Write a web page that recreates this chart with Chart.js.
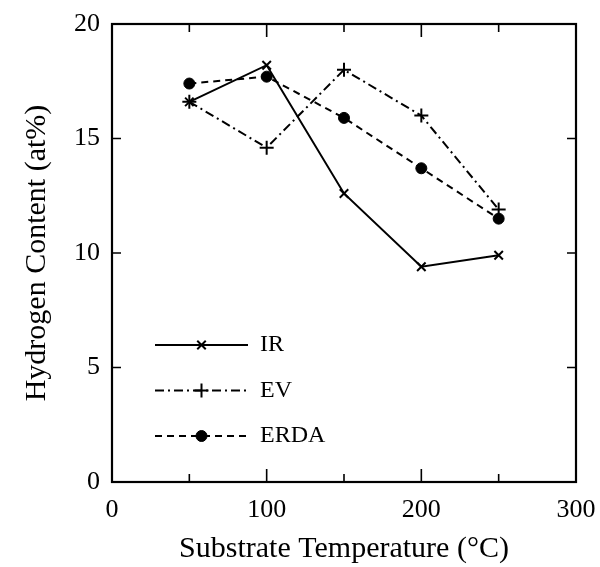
<!DOCTYPE html>
<html>
<head>
<meta charset="utf-8">
<script src="https://cdn.jsdelivr.net/npm/chart.js@4/dist/chart.umd.min.js"></script>
<style>
  body { margin: 0; background: #fff; }
  #box { width: 600px; height: 567px; }
</style>
</head>
<body>
<div id="box"><canvas id="grafico" width="600" height="567"></canvas></div>
<script>
// dados
const temperaturas = [50, 100, 150, 200, 250];
const h_ir = [16.6, 18.2, 12.6, 9.4, 9.9];
const h_ev = [16.6, 14.6, 18.0, 16.0, 11.9];
const h_erda = [17.4, 17.7, 15.9, 13.7, 11.5];

const ticks_x = [0, 100, 200, 300];
const ticks_x_menor = [50, 150, 250];
const ticks_y = [0, 5, 10, 15, 20];

const fonte = 'Liberation Serif';

function pontos(valores) {
    return temperaturas.map(function(t, i) { return { x: t, y: valores[i] }; });
}

// moldura, marcas para dentro e legenda dentro do grafico
const moldura = {
    id: 'moldura',
    afterDraw: function(chart) {
        const ctx = chart.ctx;
        const a = chart.chartArea;
        const sx = chart.scales.x;
        const sy = chart.scales.y;
        ctx.save();
        ctx.strokeStyle = '#000';
        ctx.lineWidth = 2.2;
        ctx.setLineDash([]);
        ctx.strokeRect(a.left, a.top, a.right - a.left, a.bottom - a.top);

        ctx.lineWidth = 1.6;
        ctx.beginPath();
        ticks_x.concat(ticks_x_menor).forEach(function(v) {
            const px = sx.getPixelForValue(v);
            const len = ticks_x_menor.indexOf(v) >= 0 ? 8 : 13;
            ctx.moveTo(px, a.bottom); ctx.lineTo(px, a.bottom - len);
            ctx.moveTo(px, a.top); ctx.lineTo(px, a.top + len);
        });
        ticks_y.forEach(function(v) {
            const py = sy.getPixelForValue(v);
            ctx.moveTo(a.left, py); ctx.lineTo(a.left + 9, py);
            ctx.moveTo(a.right, py); ctx.lineTo(a.right - 9, py);
        });
        ctx.stroke();

        // legenda
        chart.data.datasets.forEach(function(ds, i) {
            const y = a.top + 321 + i * 45.5;
            const x0 = a.left + 43;
            const x1 = a.left + 136;
            ctx.strokeStyle = ds.borderColor;
            ctx.fillStyle = ds.pointBackgroundColor;
            ctx.lineWidth = ds.borderWidth;
            ctx.setLineDash(ds.borderDash || []);
            ctx.beginPath();
            ctx.moveTo(x0, y);
            ctx.lineTo(x1, y);
            ctx.stroke();
            ctx.setLineDash([]);
            ctx.lineWidth = ds.pointBorderWidth;
            Chart.helpers.drawPoint(ctx, {
                pointStyle: ds.pointStyle,
                radius: ds.pointRadius,
                rotation: 0,
                borderWidth: ds.pointBorderWidth
            }, (x0 + x1) / 2, y);
            ctx.fillStyle = '#000';
            ctx.font = '24px "' + fonte + '"';
            ctx.textBaseline = 'middle';
            ctx.textAlign = 'left';
            ctx.fillText(ds.label, a.left + 148, y);
        });
        ctx.restore();
    }
};

const ctx = document.getElementById('grafico').getContext('2d');

const myChart = new Chart(ctx, {
    type: 'line',
    data: {
        datasets: [{
            label: 'IR',
            data: pontos(h_ir),
            borderColor: '#000',
            borderWidth: 2,
            pointStyle: 'crossRot',
            pointRadius: 6,
            pointBorderWidth: 2,
            pointBorderColor: '#000',
            pointBackgroundColor: '#000',
            tension: 0
        }, {
            label: 'EV',
            data: pontos(h_ev),
            borderColor: '#000',
            borderWidth: 2,
            borderDash: [9, 4, 2, 4],
            pointStyle: 'cross',
            pointRadius: 7,
            pointBorderWidth: 2,
            pointBorderColor: '#000',
            pointBackgroundColor: '#000',
            tension: 0
        }, {
            label: 'ERDA',
            data: pontos(h_erda),
            borderColor: '#000',
            borderWidth: 2,
            borderDash: [7, 5],
            pointStyle: 'circle',
            pointRadius: 5.5,
            pointBorderWidth: 1,
            pointBorderColor: '#000',
            pointBackgroundColor: '#000',
            tension: 0
        }]
    },
    options: {
        responsive: false,
        animation: false,
        layout: { padding: { top: 24, right: 24, left: 0, bottom: 0 } },
        plugins: {
            legend: { display: false },
            tooltip: { enabled: false }
        },
        scales: {
            x: {
                type: 'linear',
                min: 0,
                max: 300,
                afterFit: function(scale) {
                    scale.height = 85;
                    scale.paddingLeft = 0;
                    scale.paddingRight = 0;
                },
                afterBuildTicks: function(scale) {
                    scale.ticks = ticks_x.map(function(v) { return { value: v }; });
                },
                grid: { display: false, drawTicks: false },
                border: { display: false },
                ticks: {
                    padding: 13,
                    color: '#000',
                    font: { family: fonte, size: 26 }
                },
                title: {
                    display: true,
                    text: 'Substrate Temperature (°C)',
                    color: '#000',
                    padding: { top: 0, bottom: 0 },
                    font: { family: fonte, size: 30 }
                }
            },
            y: {
                min: 0,
                max: 20,
                afterFit: function(scale) {
                    scale.width = 112;
                    scale.paddingTop = 0;
                    scale.paddingBottom = 0;
                },
                afterBuildTicks: function(scale) {
                    scale.ticks = ticks_y.map(function(v) { return { value: v }; });
                },
                grid: { display: false, drawTicks: false },
                border: { display: false },
                ticks: {
                    padding: 12,
                    color: '#000',
                    font: { family: fonte, size: 26 }
                },
                title: {
                    display: true,
                    text: 'Hydrogen Content (at%)',
                    color: '#000',
                    padding: { top: 19, bottom: 0 },
                    font: { family: fonte, size: 30 }
                }
            }
        }
    },
    plugins: [moldura]
});
</script>
</body>
</html>
